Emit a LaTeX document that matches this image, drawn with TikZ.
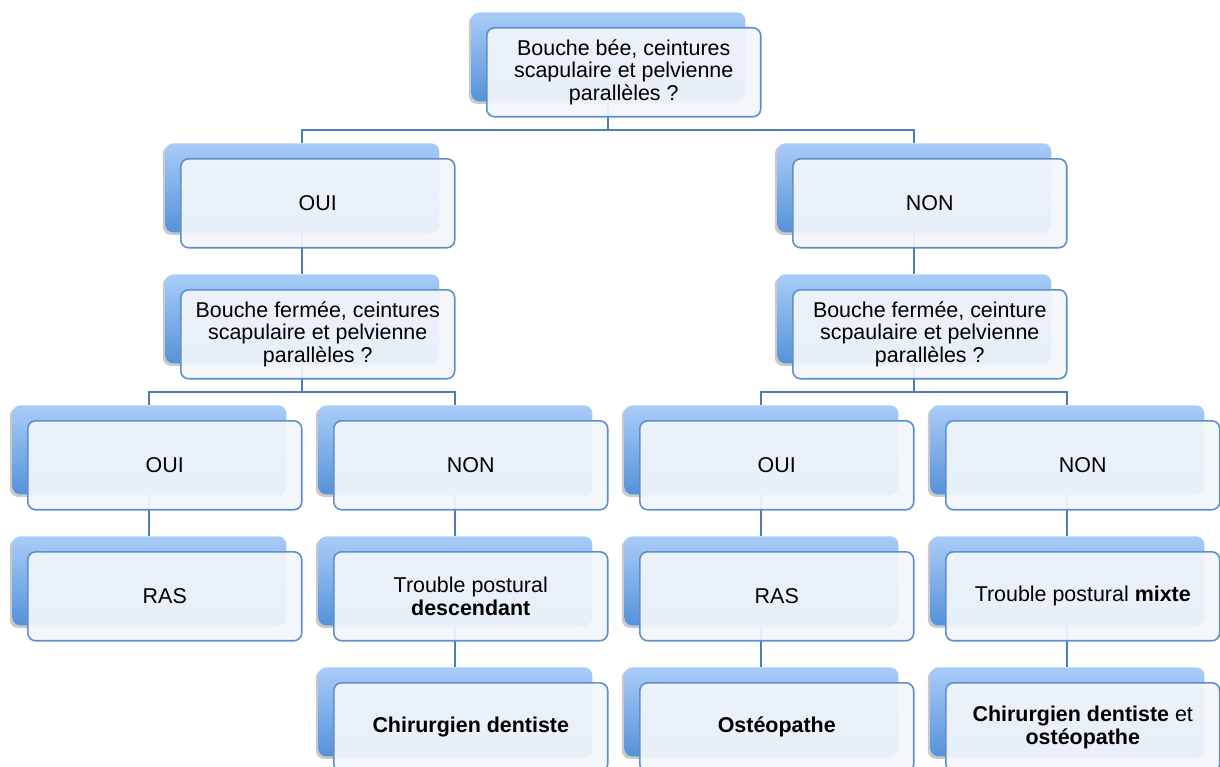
\documentclass[tikz,border=0pt]{standalone}
\usepackage{fontspec}
\setmainfont{Liberation Sans}
\usetikzlibrary{positioning,shadows,backgrounds}
\definecolor{backtop}{HTML}{A9CCF8}
\definecolor{backbot}{HTML}{5592D8}
\definecolor{framecol}{HTML}{5E8FC8}
\definecolor{frontfill}{HTML}{F2F6FB}
\definecolor{linkcol}{HTML}{4C7DB8}
\begin{document}
\begin{tikzpicture}[x=0.02cm,y=-0.02cm,
		back/.style={anchor=north west,minimum width=5.48cm,minimum height=1.78cm,inner sep=0pt,
			rounded corners=4.5pt,top color=backtop,bottom color=backbot,
			drop shadow={shadow xshift=-0.05cm,shadow yshift=-0.05cm,opacity=0.3,fill=black!70}},
		front/.style={anchor=north west,minimum width=5.48cm,minimum height=1.78cm,inner sep=2pt,
			rounded corners=4.5pt,draw=framecol,line width=0.9pt,fill=frontfill,fill opacity=0.93,
			text opacity=1,align=center,font=\fontsize{12.2}{12.8}\selectfont},
		link/.style={draw=linkcol,line width=1pt}]
		\useasboundingbox (0,0) rectangle (1220,767);
		% level 0
		\node [back] (rootb) at (471,12) {};
		\node [front] (root) at ([shift={(15,15)}]rootb.north west) {Bouche bée, ceintures\\scapulaire et pelvienne\\parallèles ?};
		% level 1
		\node [back] (ouib) at (165,143) {};
		\node [front] (oui) at ([shift={(15,15)}]ouib.north west) {OUI};
		\node [back] (nonb) at (777,143) {};
		\node [front] (non) at ([shift={(15,15)}]nonb.north west) {NON};
		% level 2
		\node [back] (qouib) at (165,274) {};
		\node [front] (qoui) at ([shift={(15,15)}]qouib.north west) {Bouche fermée, ceintures\\scapulaire et pelvienne\\parallèles ?};
		\node [back] (qnonb) at (777,274) {};
		\node [front] (qnon) at ([shift={(15,15)}]qnonb.north west) {Bouche fermée, ceinture\\scpaulaire et pelvienne\\parallèles ?};
		% level 3
		\node [back] (oob) at (12,405) {};
		\node [front] (oo) at ([shift={(15,15)}]oob.north west) {OUI};
		\node [back] (onb) at (318,405) {};
		\node [front] (on) at ([shift={(15,15)}]onb.north west) {NON};
		\node [back] (nob) at (624,405) {};
		\node [front] (no) at ([shift={(15,15)}]nob.north west) {OUI};
		\node [back] (nnb) at (930,405) {};
		\node [front] (nn) at ([shift={(15,15)}]nnb.north west) {NON};
		% level 4
		\node [back] (rasab) at (12,536) {};
		\node [front] (rasa) at ([shift={(15,15)}]rasab.north west) {RAS};
		\node [back] (descb) at (318,536) {};
		\node [front] (desc) at ([shift={(15,15)}]descb.north west) {Trouble postural\\\textbf{descendant}};
		\node [back] (rasbb) at (624,536) {};
		\node [front] (rasb) at ([shift={(15,15)}]rasbb.north west) {RAS};
		\node [back] (mixteb) at (930,536) {};
		\node [front] (mixte) at ([shift={(15,15)}]mixteb.north west) {Trouble postural \textbf{mixte}};
		% level 5
		\node [back] (dentb) at (318,667) {};
		\node [front] (dent) at ([shift={(15,15)}]dentb.north west) {\textbf{Chirurgien dentiste}};
		\node [back] (osteob) at (624,667) {};
		\node [front] (osteo) at ([shift={(15,15)}]osteob.north west) {\textbf{Ostéopathe}};
		\node [back] (bothb) at (930,667) {};
		\node [front] (both) at ([shift={(15,15)}]bothb.north west) {\textbf{Chirurgien dentiste} et\\\textbf{ostéopathe}};
		% connectors
		\begin{pgfonlayer}{background}
			\draw [link] (rootb.south) -- ++(0,28) -| (ouib.north);
			\draw [link] (rootb.south) -- ++(0,28) -| (nonb.north);
			\draw [link] (ouib.south) -- (qouib.north);
			\draw [link] (nonb.south) -- (qnonb.north);
			\draw [link] (qouib.south) -- ++(0,28) -| (oob.north);
			\draw [link] (qouib.south) -- ++(0,28) -| (onb.north);
			\draw [link] (qnonb.south) -- ++(0,28) -| (nob.north);
			\draw [link] (qnonb.south) -- ++(0,28) -| (nnb.north);
			\draw [link] (oob.south) -- (rasab.north);
			\draw [link] (onb.south) -- (descb.north);
			\draw [link] (nob.south) -- (rasbb.north);
			\draw [link] (nnb.south) -- (mixteb.north);
			\draw [link] (descb.south) -- (dentb.north);
			\draw [link] (rasbb.south) -- (osteob.north);
			\draw [link] (mixteb.south) -- (bothb.north);
		\end{pgfonlayer}
\end{tikzpicture}
\end{document}
